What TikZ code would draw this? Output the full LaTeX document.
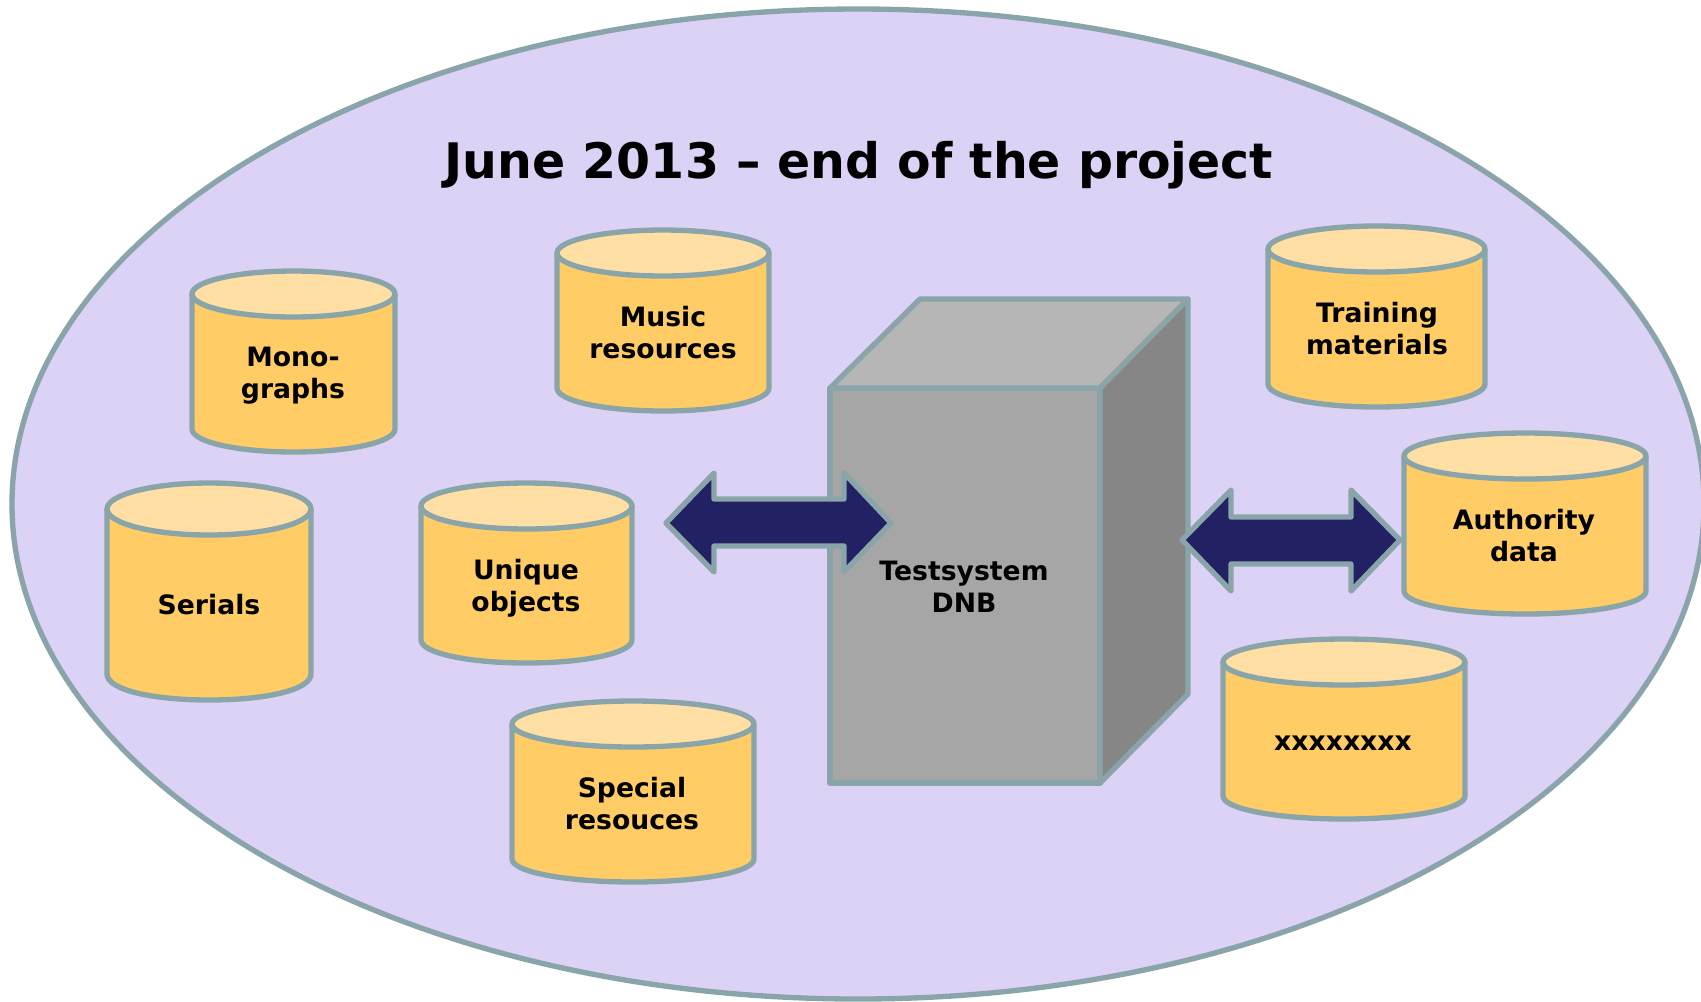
\documentclass[tikz,border=0pt]{standalone}
\usepackage{fontspec}
\setmainfont{DejaVu Sans}
\definecolor{edgec}{HTML}{8AA5AA}
\definecolor{bubble}{HTML}{DCD2F6}
\definecolor{cylbody}{HTML}{FFCC66}
\definecolor{cyltop}{HTML}{FFDFA3}
\definecolor{cubefront}{HTML}{A6A6A6}
\definecolor{cubetop}{HTML}{B6B6B6}
\definecolor{cubeside}{HTML}{868686}
\definecolor{arrowfill}{HTML}{212164}
\tikzset{
  outl/.style={draw=edgec,line width=4pt,line join=round},
  lab/.style={font=\bfseries\fontsize{20}{24}\selectfont,align=center,text=black,inner sep=0pt},
  titlelab/.style={font=\bfseries\fontsize{36.7}{44}\selectfont,text=black,inner sep=0pt}
}
\def\cylry{23}
% name, xleft, xright, ytop, ybottom, label x, label y, text
\newcommand{\cylbox}[8]{%
  \pgfmathsetmacro{\cxm}{(#2+#3)/2}%
  \pgfmathsetmacro{\crx}{(#3-#2)/2}%
  \pgfmathsetmacro{\ctop}{#4+\cylry}%
  \pgfmathsetmacro{\cbot}{#5-\cylry}%
  \draw[outl,fill=cylbody] (#2,\ctop) -- (#2,\cbot) .. controls (#2,#5-10) and (\cxm-\crx*0.55,#5) .. (\cxm,#5) .. controls (\cxm+\crx*0.55,#5) and (#3,#5-10) .. (#3,\cbot) -- (#3,\ctop);
  \draw[outl,fill=cyltop] (\cxm,\ctop) ellipse[x radius=\crx,y radius=\cylry];
  \node[lab] (#1) at (#6,#7) {#8};
}
\begin{document}
\begin{tikzpicture}[x=0.75pt,y=-0.75pt]
\useasboundingbox (0,0) rectangle (1701,1001);
\fill[white] (0,0) rectangle (1701,1001);
\clip (0,0) rectangle (1701,1001);
\draw[outl,fill=bubble] (858,504) ellipse[x radius=846,y radius=495];
\node[titlelab] (title) at (859,165) {June 2013 – end of the project};
\cylbox{mono}{192}{395}{271}{452}{293}{376}{Mono-\\graphs}
\cylbox{music}{557}{769}{230}{411}{663}{333}{Music\\resources}
\cylbox{training}{1268}{1485}{226}{407}{1377}{329}{Training\\materials}
\cylbox{authority}{1404}{1646}{433}{614}{1524}{536}{Authority\\data}
\cylbox{xxx}{1223}{1465}{639}{819}{1343}{743}{xxxxxxxx}
\def\cylry{26}
\cylbox{serials}{107}{311}{483}{700}{209}{605}{Serials}
\def\cylry{23}
\cylbox{unique}{421}{632}{483}{663}{526}{588}{Unique\\objects}
\cylbox{special}{512}{754}{701}{882}{632}{804}{Special\\resouces}
% cube
\draw[outl,fill=cubefront] (830,388) rectangle (1100,783);
\draw[outl,fill=cubetop] (830,388) -- (920,299) -- (1188,299) -- (1100,388) -- cycle;
\draw[outl,fill=cubeside] (1100,388) -- (1188,299) -- (1188,694) -- (1100,783) -- cycle;
\node[lab] (test) at (964,587) {Testsystem\\DNB};
% arrows
\draw[outl,fill=arrowfill] (666,523) -- (714,473) -- (714,499) -- (844,499) -- (844,473) -- (891,523) -- (844,572) -- (844,546) -- (714,546) -- (714,572) -- cycle;
\draw[outl,fill=arrowfill] (1182,540) -- (1231,490) -- (1231,517) -- (1351,517) -- (1351,490) -- (1400,540) -- (1351,591) -- (1351,564) -- (1231,564) -- (1231,591) -- cycle;
\end{tikzpicture}
\end{document}
